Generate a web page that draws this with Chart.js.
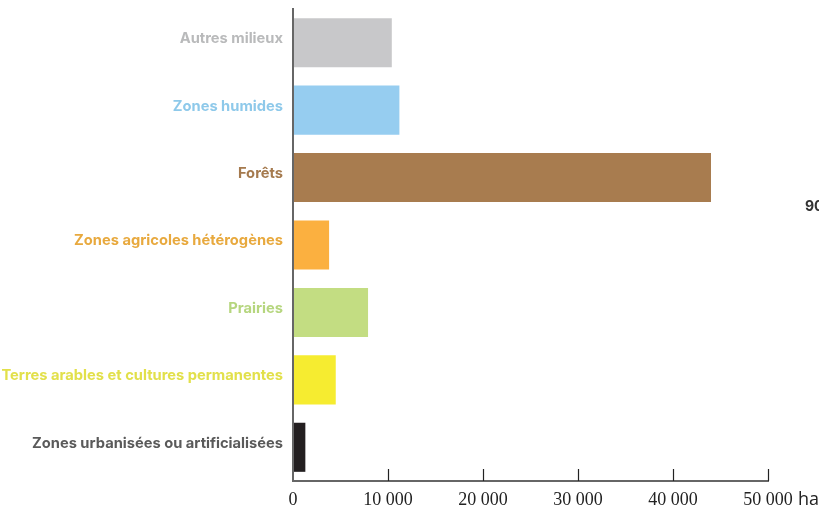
<!DOCTYPE html>
<html>
<head>
<meta charset="utf-8">
<script src="https://cdn.jsdelivr.net/npm/chart.js@4.4.0/dist/chart.umd.min.js"></script>
<style>
  html, body { margin: 0; padding: 0; background: #fff; }
  #wrap { width: 819px; height: 508px; position: relative; }
</style>
</head>
<body>
<div id="wrap"><canvas id="mychart" width="819" height="508"></canvas></div>
<script>
// occupation du sol (ha)
let categories = [
  'Autres milieux',
  'Zones humides',
  'Forêts',
  'Zones agricoles hétérogènes',
  'Prairies',
  'Terres arables et cultures permanentes',
  'Zones urbanisées ou artificialisées'
];
let surfaces = [10400, 11200, 44000, 3800, 7900, 4500, 1300];
let xTicks = [0, 10000, 20000, 30000, 40000, 50000];
let barColors = ['#c8c8ca', '#96cdf0', '#a87c4f', '#fbb040', '#c3dd82', '#f6ec30', '#231f20'];
let labelColors = ['#b9babb', '#8ec9ea', '#a57a4e', '#e8a93e', '#b6d67f', '#e2e04a', '#5a5a5a'];

let ctx = document.getElementById('mychart').getContext('2d');

function fmt(v) {
  return String(v).replace(/\B(?=(\d{3})+(?!\d))/g, ' ');
}

// petits traits vers le haut sur l'axe des x + textes "ha" et "90"
let extras = {
  id: 'extras',
  afterDraw(chart) {
    let c = chart.ctx;
    let x = chart.scales.x;
    let y0 = chart.chartArea.bottom;
    c.save();
    c.strokeStyle = '#222';
    c.lineWidth = 1.2;
    xTicks.forEach(t => {
      if (t === 0) return;
      let px = Math.round(x.getPixelForValue(t)) + 0.5;
      c.beginPath();
      c.moveTo(px, y0);
      c.lineTo(px, y0 - 12);
      c.stroke();
    });
    c.fillStyle = '#222';
    c.font = '18px "Open Sans", sans-serif';
    c.textBaseline = 'alphabetic';
    c.textAlign = 'left';
    c.fillText('ha', x.getPixelForValue(50000) + 30, 505);
    c.fillStyle = '#333';
    c.font = 'bold 14px Inter, sans-serif';
    c.fillText('90', 805, 211);
    c.restore();
  }
};

let obj = new Chart(ctx, {
  type: 'bar',
  data: {
    labels: categories,
    datasets: [{
      data: surfaces,
      backgroundColor: barColors,
      borderWidth: 0,
      barPercentage: 0.728,
      categoryPercentage: 1
    }]
  },
  options: {
    indexAxis: 'y',
    responsive: false,
    animation: false,
    layout: { padding: { top: 9, right: 51, left: 0, bottom: 0 } },
    plugins: {
      legend: { display: false },
      tooltip: { enabled: false }
    },
    scales: {
      x: {
        min: 0,
        max: 50000,
        afterBuildTicks(scale) {
          scale.ticks = xTicks.map(v => ({ value: v }));
        },
        afterFit(scale) { scale.height = 27; },
        grid: { display: false, drawTicks: false },
        border: { color: '#666', width: 2, z: 1 },
        ticks: {
          padding: 8,
          color: '#222',
          maxRotation: 0,
          font: { family: '"Liberation Serif", "DejaVu Serif", serif', size: 18 },
          callback: v => fmt(v)
        }
      },
      y: {
        afterFit(scale) {
          scale.width = 293;
          scale.paddingTop = 0;
          scale.paddingBottom = 0;
        },
        grid: { display: false, drawTicks: true, tickLength: 3, color: '#333' },
        border: { color: '#666', width: 2, z: 1 },
        ticks: {
          padding: 7,
          labelOffset: -4,
          color: labelColors,
          font: { family: 'Inter, "Open Sans", sans-serif', size: 14.7, weight: '700' }
        }
      }
    }
  },
  plugins: [extras]
});
</script>
</body>
</html>
